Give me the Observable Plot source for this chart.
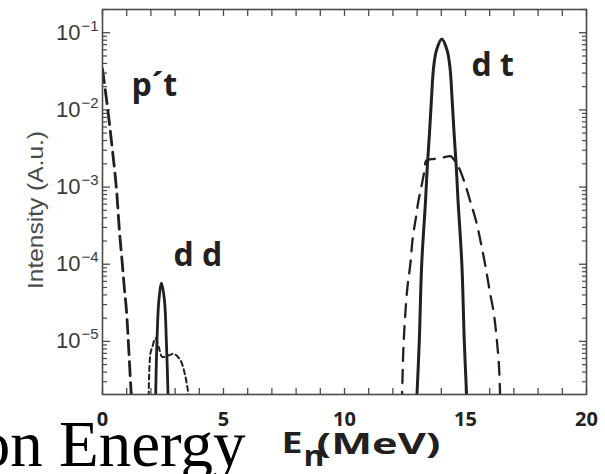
<!DOCTYPE html>
<html>
<head>
<meta charset="utf-8">
<script src="https://cdn.jsdelivr.net/npm/d3@7"></script>
<script src="https://cdn.jsdelivr.net/npm/@observablehq/plot@0.6"></script>
<style>
  body { margin: 0; background: #fff; }
  #chart { width: 605px; height: 474px; overflow: hidden; }
</style>
</head>
<body>
<div id="chart"></div>
<script>
// ---- tick labels ----
const xTickLabels = [0, 5, 10, 15, 20];
const xMinorTicks = d3.range(0, 21, 1);
const yMajorTicks = [1e-1, 1e-2, 1e-3, 1e-4, 1e-5];
const yTickBase = "10";
const yTickExp = ["−1", "−2", "−3", "−4", "−5"];
const yMinorTicks = [];
for (const dec of [1e-6, 1e-5, 1e-4, 1e-3, 1e-2, 1e-1])
  for (let m = 2; m <= 9; m++) { const v = m * dec; if (v >= 2.05e-6 && v <= 0.2001) yMinorTicks.push(v); }

// ---- series ----
// p't (long dashes)
const ptE = [0, 0.22, 0.37, 0.57, 0.70, 0.82, 0.91, 0.99, 1.16, 1.25];
const ptI = [0.034, 0.01, 3.9e-3, 1e-3, 2.7e-4, 1e-4, 4.6e-5, 2.5e-5, 2.9e-6, 1e-6];
// dd solid
const ddE = [2.19, 2.25, 2.33, 2.44, 2.56, 2.64, 2.72];
const ddI = [1.5e-6, 1e-5, 3.4e-5, 5.7e-5, 3.4e-5, 1e-5, 1.5e-6];
// dd short dashes
const ddDotE = [1.9, 1.98, 2.05, 2.19, 2.33, 2.47, 2.74, 2.95, 3.22, 3.4, 3.53, 3.6];
const ddDotI = [1.5e-6, 7e-6, 8.3e-6, 1.1e-5, 8.3e-6, 6.3e-6, 6.6e-6, 6.9e-6, 5.7e-6, 3.8e-6, 2.3e-6, 1.5e-6];
// dt solid
const dtE = [12.98, 13.09, 13.19, 13.35, 13.42, 13.51, 13.59, 13.68, 13.8, 14.02, 14.24, 14.36, 14.45, 14.53, 14.62, 14.69, 14.85, 14.95, 15.06];
const dtI = [1.6e-6, 1e-5, 1e-4, 6.8e-4, 1.8e-3, 4.9e-3, 1.32e-2, 3.5e-2, 5.9e-2, 8.3e-2, 5.9e-2, 3.5e-2, 1.32e-2, 4.9e-3, 1.8e-3, 6.8e-4, 1e-4, 1e-5, 1.6e-6];
// dt dashed (broad)
const dtDashE = [12.37, 12.43, 12.5, 12.6, 12.72, 12.82, 12.95, 13.05, 13.2, 13.3, 13.38, 13.6, 13.9, 14.15, 14.4, 14.55, 14.72, 15.0, 15.2, 15.45, 15.65, 15.85, 16.0, 16.17, 16.3, 16.38, 16.42, 16.44];
const dtDashI = [1.5e-6, 7.6e-6, 2e-5, 5e-5, 1e-4, 2.2e-4, 4e-4, 6.5e-4, 1.1e-3, 1.6e-3, 2.2e-3, 2.3e-3, 2.35e-3, 2.45e-3, 2.5e-3, 2.2e-3, 1.8e-3, 1.05e-3, 6.5e-4, 3.5e-4, 1.8e-4, 8.5e-5, 4.5e-5, 2.3e-5, 1e-5, 5e-6, 2.5e-6, 1.5e-6];

// ---- annotations ----
const annoText = ["p´t", "d d", "d t"];
const annoE = [1.2, 2.93, 15.25];
const annoI = [0.0153, 9.4e-5, 0.0278];

const rows = (E, I) => E.map((e, i) => ({E: e, I: I[i]}));
const ink = "#231f20";
const axisInk = "#4a4a4a";
const boldFont = "'Open Sans', 'Liberation Sans', sans-serif";
const sansFont = "'Liberation Sans', Arial, sans-serif";

const svg = Plot.plot({
  width: 605,
  height: 474,
  marginLeft: 102,
  marginRight: 19,
  marginTop: 9,
  marginBottom: 80,
  style: {background: "white", overflow: "visible"},
  x: {domain: [0, 20], label: null},
  y: {type: "log", domain: [2.05e-6, 0.2], label: null},
  marks: [
    // inward ticks
    Plot.axisX({anchor: "bottom", ticks: xMinorTicks, tickSize: -6, tickFormat: () => "", stroke: axisInk, strokeWidth: 1.3, label: null}),
    Plot.axisX({anchor: "top", ticks: xMinorTicks, tickSize: -6, tickFormat: () => "", stroke: axisInk, strokeWidth: 1.3, label: null}),
    Plot.axisY({anchor: "left", ticks: yMajorTicks, tickSize: -8, tickFormat: () => "", stroke: axisInk, strokeWidth: 1.3, label: null}),
    Plot.axisY({anchor: "left", ticks: yMinorTicks, tickSize: -5, tickFormat: () => "", stroke: axisInk, strokeWidth: 1.2, label: null}),
    Plot.axisY({anchor: "right", ticks: yMajorTicks, tickSize: -8, tickFormat: () => "", stroke: axisInk, strokeWidth: 1.3, label: null}),
    Plot.axisY({anchor: "right", ticks: yMinorTicks, tickSize: -5, tickFormat: () => "", stroke: axisInk, strokeWidth: 1.2, label: null}),
    // x tick labels
    Plot.axisX({anchor: "bottom", ticks: xTickLabels, tickSize: 0, tickPadding: 17, fontSize: 20, fontWeight: 700, fontFamily: boldFont, fill: ink, label: null}),
    // y tick labels 10^k
    Plot.text(yMajorTicks, {y: d => d, frameAnchor: "left", text: () => yTickBase, textAnchor: "end", lineAnchor: "bottom", dx: -22, dy: 7, fontSize: 22, fontFamily: sansFont, fill: "#3a3a3a"}),
    Plot.text(yMajorTicks, {y: d => d, frameAnchor: "left", text: (d, i) => yTickExp[i], textAnchor: "start", lineAnchor: "bottom", dx: -21, dy: -2, fontSize: 15, fontFamily: sansFont, fill: "#3a3a3a"}),
    // y axis title
    Plot.text(["Intensity (A.u.)"], {frameAnchor: "left", rotate: -90, textAnchor: "middle", lineAnchor: "bottom", dx: -60, dy: 8, fontSize: 22, fontFamily: sansFont, fill: "#4a4a4a"}),
    // curves
    Plot.line(rows(ptE, ptI), {x: "E", y: "I", stroke: ink, strokeWidth: 2.8, strokeDasharray: "14,7", curve: "catmull-rom", clip: true}),
    Plot.line(rows(ddDotE, ddDotI), {x: "E", y: "I", stroke: ink, strokeWidth: 2, strokeDasharray: "5,3.5", curve: "catmull-rom", clip: true}),
    Plot.line(rows(ddE, ddI), {x: "E", y: "I", stroke: ink, strokeWidth: 2.8, curve: "catmull-rom", clip: true}),
    Plot.line(rows(dtDashE, dtDashI), {x: "E", y: "I", stroke: ink, strokeWidth: 2.3, strokeDasharray: "13,9", curve: "catmull-rom", clip: true}),
    Plot.line(rows(dtE, dtI), {x: "E", y: "I", stroke: ink, strokeWidth: 3, curve: "catmull-rom", clip: true}),
    // frame
    Plot.frame({stroke: axisInk, strokeWidth: 1.6}),
    // annotations
    Plot.text(annoText, {x: (d, i) => annoE[i], y: (d, i) => annoI[i], text: d => d, textAnchor: "start", lineAnchor: "bottom", fontSize: 32, fontWeight: 700, fontFamily: boldFont, fill: ink}),
    // bottom labels
    Plot.text(["on Energy"], {frameAnchor: "bottom-left", textAnchor: "end", lineAnchor: "bottom", dx: 143, dy: 71, fontSize: 65, fontFamily: "'Liberation Serif', 'Times New Roman', serif", fill: "#000"}),
    Plot.text(["E"], {frameAnchor: "bottom-left", textAnchor: "start", lineAnchor: "bottom", dx: 179, dy: 58, fontSize: 28, fontWeight: 700, fontFamily: boldFont, fill: ink}),
    Plot.text(["n"], {frameAnchor: "bottom-left", textAnchor: "start", lineAnchor: "bottom", dx: 201, dy: 71, fontSize: 28, fontWeight: 700, fontFamily: boldFont, fill: ink}),
    Plot.text(["(MeV)"], {frameAnchor: "bottom-left", textAnchor: "start", lineAnchor: "bottom", dx: 214, dy: 59, fontSize: 28, fontWeight: 700, fontFamily: boldFont, fill: ink})
  ]
});

// stretch text glyphs along their length like the reference
d3.select(svg).selectAll("text").each(function () {
  const t = this.textContent;
  const fit = {"(MeV)": 124, "E": 21, "n": 21, "Intensity (A.u.)": 158};
  if (t in fit) { this.setAttribute("textLength", fit[t]); this.setAttribute("lengthAdjust", "spacingAndGlyphs"); }
});

document.getElementById("chart").appendChild(svg);
</script>
</body>
</html>
